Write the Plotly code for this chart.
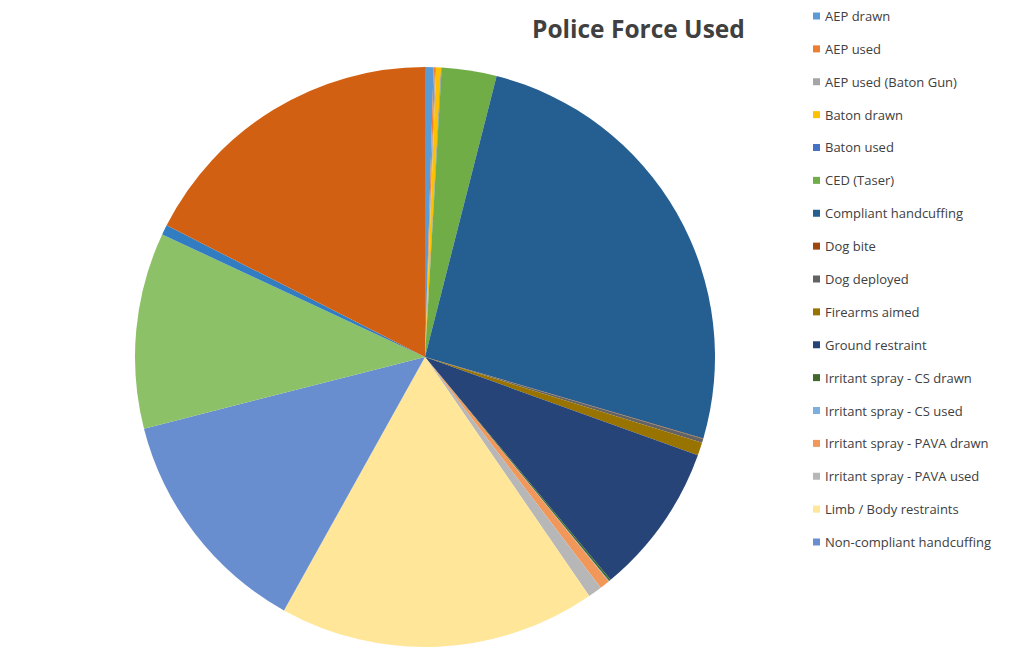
import plotly.graph_objects as go

W, H = 1028, 657

# Data (estimated share of uses)
categories = [
    "AEP drawn", "AEP used", "AEP used (Baton Gun)", "Baton drawn", "Baton used",
    "CED (Taser)", "Compliant handcuffing", "Dog bite", "Dog deployed",
    "Firearms aimed", "Ground restraint", "Irritant spray - CS drawn",
    "Irritant spray - CS used", "Irritant spray - PAVA drawn",
    "Irritant spray - PAVA used", "Limb / Body restraints",
    "Non-compliant handcuffing", "Tactical communications", "Unarmed - other",
    "Unarmed skills",
]
values = [17, 3, 2, 10, 1, 110, 920, 1, 8, 26, 304, 4, 1, 20, 28, 636, 466, 393, 20, 630]
colors = [
    "#5B9BD5", "#ED7D31", "#A5A5A5", "#FFC000", "#4472C4", "#70AD47",
    "#255E91", "#9E480E", "#636363", "#997300", "#264478", "#43682B",
    "#7CAFDD", "#F1975A", "#B7B7B7", "#FFE699", "#698ED0", "#8CC168",
    "#327DC2", "#D26012",
]
legend_count = 17  # only the first 17 entries are visible in the legend

cx, cy, r = 425, 357, 290

fig = go.Figure()
fig.add_trace(go.Pie(
    labels=categories, values=values, sort=False, direction="clockwise",
    rotation=0, textinfo="none", showlegend=False,
    marker=dict(colors=colors, line=dict(width=0)),
    domain=dict(x=[(cx - r) / W, (cx + r) / W], y=[(H - cy - r) / H, (H - cy + r) / H]),
))

shapes = []
annotations = []
y0, step = 16, 32.875
for i in range(legend_count):
    y = y0 + i * step
    shapes.append(dict(type="rect", xref="paper", yref="paper",
                       x0=813 / W, x1=820 / W, y0=1 - (y + 3.5) / H, y1=1 - (y - 3.5) / H,
                       fillcolor=colors[i], line=dict(width=0)))
    annotations.append(dict(text=categories[i], xref="paper", yref="paper",
                            x=823 / W, y=1 - y / H, xanchor="left", yanchor="middle",
                            showarrow=False, font=dict(size=13, color="#404040", family="Open Sans")))

annotations.append(dict(text="<b>Police Force Used</b>", xref="paper", yref="paper",
                        x=638 / W, y=1 - 28 / H, xanchor="center", yanchor="middle",
                        showarrow=False, font=dict(size=24.5, color="#404040", family="Open Sans")))

fig.update_layout(
    width=W, height=H, margin=dict(l=0, r=0, t=0, b=0),
    paper_bgcolor="white", plot_bgcolor="white",
    shapes=shapes, annotations=annotations,
)
fig.write_html("out.html")
